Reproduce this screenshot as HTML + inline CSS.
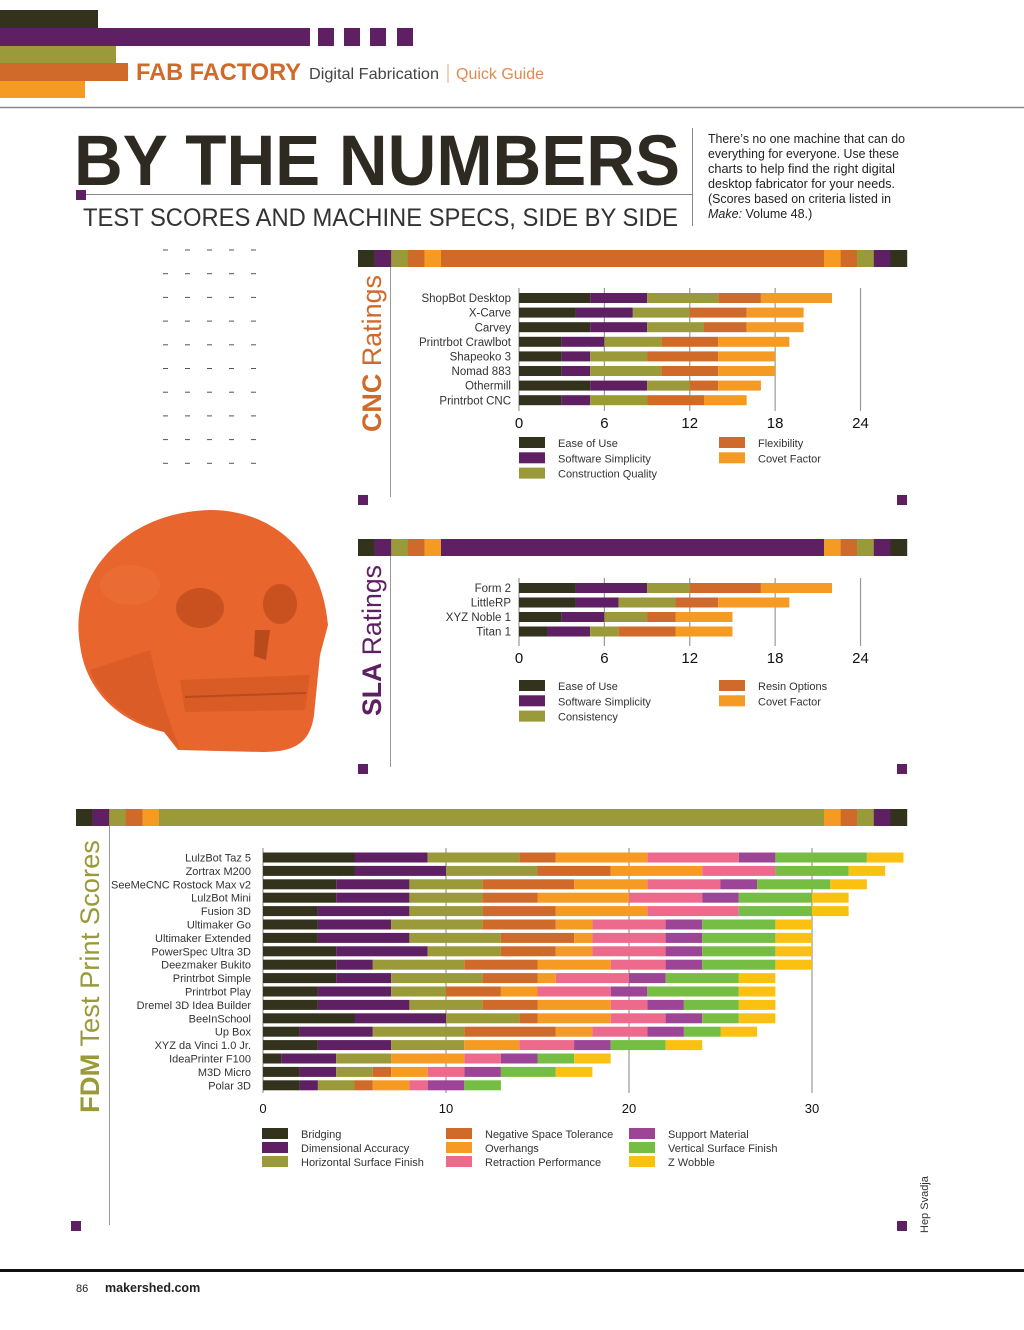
<!DOCTYPE html>
<html><head><meta charset="utf-8">
<style>
body{margin:0;background:#fff;}
#page{position:relative;width:1024px;height:1330px;overflow:hidden;background:#fff;font-family:"Liberation Sans","DejaVu Sans",sans-serif;}
.abs{position:absolute;}
svg text{font-family:"Liberation Sans","DejaVu Sans",sans-serif;}
</style></head>
<body>
<div id="page">
<svg id="main" class="abs" style="left:0;top:0" width="1024" height="1330" viewBox="0 0 1024 1330">
  <g>
    <rect x="0" y="10" width="98" height="18" fill="#33321c"/>
    <rect x="0" y="28" width="310" height="18" fill="#5e1f63"/>
    <rect x="318" y="28" width="16" height="18" fill="#5e1f63"/>
    <rect x="344" y="28" width="16" height="18" fill="#5e1f63"/>
    <rect x="370" y="28" width="16" height="18" fill="#5e1f63"/>
    <rect x="397" y="28" width="16" height="18" fill="#5e1f63"/>
    <rect x="0" y="46" width="116" height="17" fill="#9a9a3a"/>
    <rect x="0" y="63" width="128" height="18" fill="#cf6a2a"/>
    <rect x="0" y="81" width="85" height="17" fill="#f59a22"/>
  </g>
  <text x="136" y="80" font-size="24" font-weight="bold" fill="#cf6a2a" textLength="165" lengthAdjust="spacingAndGlyphs">FAB FACTORY</text>
  <text x="309" y="79" font-size="16" fill="#444" textLength="130" lengthAdjust="spacingAndGlyphs">Digital Fabrication</text>
  <line x1="448" y1="64" x2="448" y2="83" stroke="#e8a070" stroke-width="1"/>
  <text x="456" y="79" font-size="16" fill="#e08a50" textLength="88" lengthAdjust="spacingAndGlyphs">Quick Guide</text>
  <line x1="0" y1="107.5" x2="1024" y2="107.5" stroke="#888" stroke-width="1.5"/>

  <text x="74" y="185" font-size="71" font-weight="bold" fill="#2e2a22" textLength="606" lengthAdjust="spacingAndGlyphs">BY THE NUMBERS</text>
  <rect x="76" y="190" width="10" height="10" fill="#5e1f63"/>
  <line x1="86" y1="194.5" x2="692" y2="194.5" stroke="#888" stroke-width="1"/>
  <line x1="692.5" y1="128" x2="692.5" y2="226" stroke="#888" stroke-width="1"/>
  <text x="83" y="226" font-size="25" fill="#333" textLength="595" lengthAdjust="spacingAndGlyphs">TEST SCORES AND MACHINE SPECS, SIDE BY SIDE</text>
  <g font-size="12.5" fill="#222">
    <text x="708" y="143" textLength="197" lengthAdjust="spacingAndGlyphs">There’s no one machine that can do</text>
    <text x="708" y="158" textLength="191" lengthAdjust="spacingAndGlyphs">everything for everyone. Use these</text>
    <text x="708" y="173" textLength="187" lengthAdjust="spacingAndGlyphs">charts to help find the right digital</text>
    <text x="708" y="188" textLength="187" lengthAdjust="spacingAndGlyphs">desktop fabricator for your needs.</text>
    <text x="708" y="203" textLength="183" lengthAdjust="spacingAndGlyphs">(Scores based on criteria listed in</text>
    <text x="708" y="218"><tspan font-style="italic">Make:</tspan> Volume 48.)</text>
  </g>
  <g id="dashes"></g>

  <g>
    <path d="M80,645 C68,575 125,512 210,510 C275,510 322,555 328,625 L320,655 L314,715 C310,745 292,752 262,752 L178,750 L164,732 C120,722 86,692 80,645 Z" fill="#e8652e"/>
    <path d="M150,650 C160,700 175,735 180,750 L164,732 C130,720 100,700 90,670 Z" fill="#d85a26" opacity="0.8"/>
    <ellipse cx="200" cy="608" rx="24" ry="20" fill="#c9501f"/>
    <ellipse cx="280" cy="604" rx="17" ry="20" fill="#c9501f"/>
    <path d="M255,630 L270,630 L266,660 L254,656 Z" fill="#b94a1c"/>
    <path d="M180,680 L310,675 L305,710 L185,712 Z" fill="#d95b25"/>
    <line x1="185" y1="697" x2="306" y2="693" stroke="#b94a1c" stroke-width="2"/>
    <ellipse cx="130" cy="585" rx="30" ry="20" fill="#ec7038" opacity="0.6"/>
  </g>

  <g id="cncStrip"></g>
  <line x1="390.5" y1="267" x2="390.5" y2="497" stroke="#999" stroke-width="1"/>
  <rect x="358" y="495" width="10" height="10" fill="#5e1f63"/>
  <rect x="897" y="495" width="10" height="10" fill="#5e1f63"/>
  <text transform="translate(381,432) rotate(-90)" font-size="27" fill="#cf6a2a" textLength="157" lengthAdjust="spacingAndGlyphs"><tspan font-weight="bold">CNC</tspan> Ratings</text>

  <g id="slaStrip"></g>
  <line x1="390.5" y1="556" x2="390.5" y2="767" stroke="#999" stroke-width="1"/>
  <rect x="358" y="764" width="10" height="10" fill="#5e1f63"/>
  <rect x="897" y="764" width="10" height="10" fill="#5e1f63"/>
  <text transform="translate(381,716) rotate(-90)" font-size="27" fill="#5e1f63" textLength="151" lengthAdjust="spacingAndGlyphs"><tspan font-weight="bold">SLA</tspan> Ratings</text>

  <g id="fdmStrip"></g>
  <line x1="109.5" y1="826" x2="109.5" y2="1225" stroke="#999" stroke-width="1"/>
  <rect x="71" y="1221" width="10" height="10" fill="#5e1f63"/>
  <rect x="897" y="1221" width="10" height="10" fill="#5e1f63"/>
  <text transform="translate(99,1113) rotate(-90)" font-size="27" fill="#9a9a3a" textLength="273" lengthAdjust="spacingAndGlyphs"><tspan font-weight="bold">FDM</tspan> Test Print Scores</text>

  <g id="charts"></g>

  <text transform="translate(928,1233) rotate(-90)" font-size="11" fill="#333">Hep Svadja</text>
  <rect x="0" y="1269" width="1024" height="3" fill="#111"/>
  <text x="76" y="1292" font-size="11" fill="#222">86</text>
  <text x="105" y="1292" font-size="12.5" font-weight="bold" fill="#222">makershed.com</text>
</svg>
</div>
<script>
const NS="http://www.w3.org/2000/svg";
const cncMachines=["ShopBot Desktop","X-Carve","Carvey","Printrbot Crawlbot","Shapeoko 3","Nomad 883","Othermill","Printrbot CNC"];
const cncSeriesNames=["Ease of Use","Software Simplicity","Construction Quality","Flexibility","Covet Factor"];
const cncEase=[5,4,5,3,3,3,5,3];
const cncSoftware=[4,4,4,3,2,2,4,2];
const cncConstruction=[5,4,4,4,4,5,3,4];
const cncFlexibility=[3,4,3,4,5,4,2,4];
const cncCovet=[5,4,4,5,4,4,3,3];
const cncTicks=[0,6,12,18,24];
const slaMachines=["Form 2","LittleRP","XYZ Noble 1","Titan 1"];
const slaSeriesNames=["Ease of Use","Software Simplicity","Consistency","Resin Options","Covet Factor"];
const slaEase=[4,4,3,2];
const slaSoftware=[5,3,3,3];
const slaConsistency=[3,4,3,2];
const slaResin=[5,3,2,4];
const slaCovet=[5,5,4,4];
const slaTicks=[0,6,12,18,24];
const fdmMachines=["LulzBot Taz 5","Zortrax M200","SeeMeCNC Rostock Max v2","LulzBot Mini","Fusion 3D","Ultimaker Go","Ultimaker Extended","PowerSpec Ultra 3D","Deezmaker Bukito","Printrbot Simple","Printrbot Play","Dremel 3D Idea Builder","BeeInSchool","Up Box","XYZ da Vinci 1.0 Jr.","IdeaPrinter F100","M3D Micro","Polar 3D"];
const fdmSeriesNames=["Bridging","Dimensional Accuracy","Horizontal Surface Finish","Negative Space Tolerance","Overhangs","Retraction Performance","Support Material","Vertical Surface Finish","Z Wobble"];
const fdmBridging=[5,5,4,4,3,3,3,4,4,4,3,3,5,2,3,1,2,2];
const fdmDimensional=[4,5,4,4,5,4,5,5,2,3,4,5,5,4,4,3,2,1];
const fdmHorizontal=[5,5,4,4,4,5,5,4,5,5,3,4,4,5,4,3,2,2];
const fdmNegative=[2,4,5,3,4,4,4,3,4,3,3,3,1,5,0,0,1,1];
const fdmOverhangs=[5,5,4,5,5,2,1,2,4,1,2,4,4,2,3,4,2,2];
const fdmRetraction=[5,4,4,4,5,4,4,4,3,4,4,2,3,3,3,2,2,1];
const fdmSupport=[2,0,2,2,0,2,2,2,2,2,2,2,2,2,2,2,2,2];
const fdmVertical=[5,4,4,4,4,4,4,4,4,4,5,3,2,2,3,2,3,2];
const fdmZWobble=[2,2,2,2,2,2,2,2,2,2,2,2,2,2,2,2,2,0];
const fdmTicks=[0,10,20,30];

const C5=["#33321c","#5e1f63","#9a9a3a","#cf6a2a","#f59a22"];
const C9=["#33321c","#5e1f63","#9a9a3a","#cf6a2a","#f59a22","#ee6a8c","#9c4597","#75bd43","#fbc112"];

function el(tag,attrs,parent){const e=document.createElementNS(NS,tag);for(const k in attrs)e.setAttribute(k,attrs[k]);parent.appendChild(e);return e;}
const charts=document.getElementById('charts');

function strip(g,x0,x1,y,midColor){
  const cols=["#33321c","#5e1f63","#9a9a3a","#cf6a2a","#f59a22"];
  for(let i=0;i<5;i++)el('rect',{x:x0+i*16.6,y:y,width:16.8,height:17,fill:cols[i]},g);
  const right=["#f59a22","#cf6a2a","#9a9a3a","#5e1f63","#33321c"];
  for(let i=0;i<5;i++)el('rect',{x:x1-83+i*16.6,y:y,width:16.8,height:17,fill:right[i]},g);
  el('rect',{x:x0+83,y:y,width:x1-x0-166,height:17,fill:midColor},g);
}
strip(document.getElementById('cncStrip'),358,907,250,"#cf6a2a");
strip(document.getElementById('slaStrip'),358,907,539,"#5e1f63");
strip(document.getElementById('fdmStrip'),76,907,809,"#9a9a3a");

const dg=document.getElementById('dashes');
for(let r=0;r<10;r++)for(let c=0;c<5;c++)el('line',{x1:163+c*22,y1:250+r*23.7,x2:168+c*22,y2:250+r*23.7,stroke:'#555','stroke-width':1},dg);

function stacked(opt){
  const g=el('g',{},charts);
  
  
  const xs=v=>opt.x0+v*opt.unit;
  const ys=i=>opt.y0+i*opt.rowH;
  opt.ticks.forEach(t=>{
    const l=el('line',{x1:xs(t),x2:xs(t),y1:opt.gridTop,y2:opt.gridBot,stroke:'#999','stroke-width':1.2},g);
    
    
    const tx=el('text',{x:xs(t),y:opt.tickY,'font-size':opt.tickSize,'text-anchor':'middle',fill:'#111'},g);
    
    
    tx.textContent=t;
  });
  opt.cats.forEach((c,i)=>{
    let acc=0;
    opt.series.forEach((s,j)=>{
      const v=s[i];
      if(v>0){
        const r=el('rect',{x:xs(acc),y:ys(i)-opt.barH/2,width:xs(acc+v)-xs(acc),height:opt.barH,fill:opt.colors[j]},g);
        
        
      }
      acc+=v;
    });
    const t=el('text',{x:opt.labelX,y:ys(i)+opt.labelSize*0.36,'font-size':opt.labelSize,'text-anchor':'end',fill:'#333'},g);
    
    
    t.textContent=c;
  });
  opt.names.forEach((n,j)=>{
    const col=Math.floor(j/opt.legRows),row=j%opt.legRows;
    const lx=opt.legX[col],ly=opt.legY+row*opt.legDy;
    const r=el('rect',{x:lx,y:ly-6,width:26,height:11,fill:opt.colors[j]},g);
    
    
    const t=el('text',{x:lx+39,y:ly+4,'font-size':11,fill:'#333'},g);
    
    
    t.textContent=n;
  });
}
stacked({name:'cnc-chart',cats:cncMachines,series:[cncEase,cncSoftware,cncConstruction,cncFlexibility,cncCovet],colors:C5,names:cncSeriesNames,
  ticks:cncTicks,x0:519,unit:14.23,y0:298,rowH:14.6,barH:10,gridTop:288,gridBot:411,tickY:428,tickSize:15,labelX:511,labelSize:11.5,
  legX:[519,719],legY:443,legDy:15.3,legRows:3});
stacked({name:'sla-chart',cats:slaMachines,series:[slaEase,slaSoftware,slaConsistency,slaResin,slaCovet],colors:C5,names:slaSeriesNames,
  ticks:slaTicks,x0:519,unit:14.23,y0:588,rowH:14.5,barH:10,gridTop:578,gridBot:646,tickY:663,tickSize:15,labelX:511,labelSize:11.5,
  legX:[519,719],legY:686,legDy:15.3,legRows:3});
stacked({name:'fdm-chart',cats:fdmMachines,series:[fdmBridging,fdmDimensional,fdmHorizontal,fdmNegative,fdmOverhangs,fdmRetraction,fdmSupport,fdmVertical,fdmZWobble],colors:C9,names:fdmSeriesNames,
  ticks:fdmTicks,x0:263,unit:18.3,y0:857.5,rowH:13.4,barH:10,gridTop:848,gridBot:1093,tickY:1113,tickSize:13,labelX:251,labelSize:11,
  legX:[262,446,629],legY:1134,legDy:14,legRows:3});
</script>
</body></html>
